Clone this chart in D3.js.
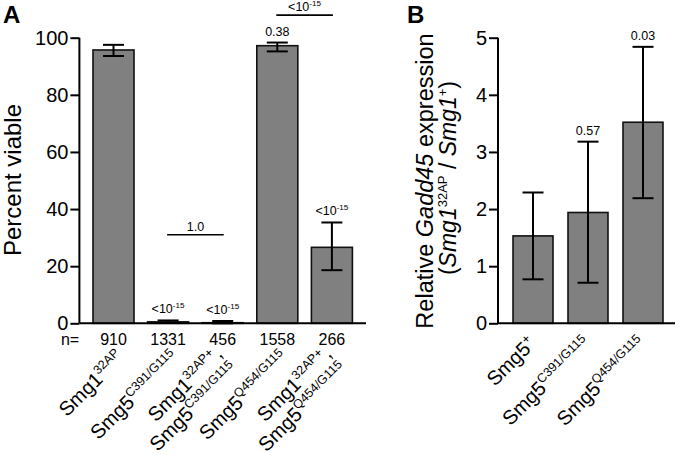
<!DOCTYPE html>
<html><head><meta charset="utf-8">
<script src="https://cdn.jsdelivr.net/npm/d3@7"></script>
<style>body{margin:0;background:#fff} svg text{font-family:"Liberation Sans",Arial,Helvetica,sans-serif;fill:#000}</style>
</head><body><svg id="c" width="677" height="455"></svg>
<script>
// ---- Panel A data ----
const catsA = ["Smg1_32AP", "Smg5_C391", "Smg1_Smg5_C391", "Smg5_Q454", "Smg1_Smg5_Q454"];
const valuesA = [95.7, 0.5, 0.2, 97.2, 26.6];
const errLoA = [93.6, 0.1, 0.0, 95.2, 18.6];
const errHiA = [97.5, 1.0, 0.8, 98.3, 35.3];
const nA = [910, 1331, 456, 1558, 266];
const pA = [null, "<10|-15", "<10|-15", "0.38", "<10|-15"];
const labelsA = [
  [["Smg1", "32AP", ""]],
  [["Smg5", "C391/G115", ""]],
  [["Smg1", "32AP+", ","], ["Smg5", "C391/G115", ""]],
  [["Smg5", "Q454/G115", ""]],
  [["Smg1", "32AP+", ","], ["Smg5", "Q454/G115", ""]]
];
const bracketsA = [{a: 1, b: 2, v: 31, t: "1.0"}, {a: 3, b: 4, v: 107.9, t: "<10|-15"}];
const ticksA = [0, 20, 40, 60, 80, 100];

// ---- Panel B data ----
const catsB = ["Smg5_plus", "Smg5_C391", "Smg5_Q454"];
const valuesB = [1.53, 1.94, 3.52];
const errLoB = [0.77, 0.71, 2.19];
const errHiB = [2.29, 3.18, 4.84];
const pB = [null, "0.57", "0.03"];
const labelsB = [
  [["Smg5", "+", ""]],
  [["Smg5", "C391/G115", ""]],
  [["Smg5", "Q454/G115", ""]]
];
const ticksB = [0, 1, 2, 3, 4, 5];

const svg = d3.select("#c");
const GRAY = "#808080";

function pText(sel, str, size) {
  const parts = str.split("|");
  sel.append("tspan").text(parts[0]);
  if (parts[1]) sel.append("tspan").attr("font-size", size * 0.65).attr("dy", -size * 0.4).text(parts[1]);
}

function panel(o) {
  const g = svg.append("g");
  const x = d3.scaleBand().domain(o.cats).range(o.xr).padding(o.pad);
  const y = d3.scaleLinear().domain(o.yd).range([323.3, 37.7]);
  const c = i => x(o.cats[i]) + x.bandwidth() / 2;

  // bars
  g.selectAll("rect.bar").data(o.values).join("rect")
    .attr("x", (d, i) => x(o.cats[i])).attr("width", x.bandwidth())
    .attr("y", d => y(d)).attr("height", d => y(0) - y(d))
    .attr("fill", GRAY).attr("stroke", "#111").attr("stroke-width", 1.6);

  // error bars
  const cap = 10.5;
  o.values.forEach((d, i) => {
    const cx = c(i);
    g.append("line").attr("x1", cx).attr("x2", cx).attr("y1", y(o.lo[i])).attr("y2", y(o.hi[i]))
      .attr("stroke", "#000").attr("stroke-width", 2);
    [o.lo[i], o.hi[i]].forEach(v => g.append("line").attr("x1", cx - cap).attr("x2", cx + cap)
      .attr("y1", y(v)).attr("y2", y(v)).attr("stroke", "#000").attr("stroke-width", 2));
    if (o.p[i]) {
      const t = g.append("text").attr("x", cx).attr("y", y(o.hi[i]) - 7)
        .attr("text-anchor", "middle").attr("font-size", 12.5);
      pText(t, o.p[i], 12.5);
    }
  });

  // y axis
  const ya = d3.axisLeft(y).tickValues(o.ticks).tickSize(9).tickPadding(2).tickFormat(d3.format("d"));
  const yg = g.append("g").attr("transform", `translate(${o.xr[0]},0)`).call(ya);
  yg.select(".domain").attr("d", `M0,${y(0)}V${y(o.yd[1])}`).attr("stroke-width", 2);
  yg.selectAll(".tick line").attr("stroke-width", 2);
  yg.selectAll(".tick text").attr("font-size", 20).attr("font-family", "Liberation Sans, Arial, sans-serif");

  // x axis line
  g.append("line").attr("x1", o.xr[0]).attr("x2", o.xEnd).attr("y1", y(0)).attr("y2", y(0))
    .attr("stroke", "#000").attr("stroke-width", 2);

  // category labels (rotated; two-line labels straddle the anchor)
  o.labels.forEach((lines, i) => {
    const lg = g.append("g").attr("transform", `translate(${c(i) + o.lab[0]},${o.lab[1]}) rotate(-45)`);
    const n = lines.length;
    lines.forEach((ln, j) => {
      const t = lg.append("text").attr("text-anchor", "end").attr("font-size", 20)
        .attr("x", n > 1 ? -5 : 0).attr("y", n > 1 ? (j === 0 ? -10.5 : 11.5) : 0);
      t.append("tspan").text(ln[0]);
      t.append("tspan").attr("font-size", 12.5).attr("dy", -8).text(ln[1]);
      if (ln[2]) t.append("tspan").attr("dy", 8).text(ln[2]);
    });
  });
  return {g, x, y, c};
}

const A = panel({cats: catsA, values: valuesA, lo: errLoA, hi: errHiA, p: pA, labels: labelsA,
  xr: [79.4, 366], xEnd: 366, pad: 0.249, yd: [0, 100], ticks: ticksA, lab: [12, 359]});
const B = panel({cats: catsB, values: valuesB, lo: errLoB, hi: errHiB, p: pB, labels: labelsB,
  xr: [498, 678], xEnd: 675, pad: 0.273, yd: [0, 5], ticks: ticksB, lab: [4, 345]});

// brackets panel A
bracketsA.forEach(b => {
  const yy = A.y(b.v);
  A.g.append("line").attr("x1", A.c(b.a) - 1).attr("x2", A.c(b.b) + 1).attr("y1", yy).attr("y2", yy)
    .attr("stroke", "#000").attr("stroke-width", 1.6);
  const t = A.g.append("text").attr("x", (A.c(b.a) + A.c(b.b)) / 2).attr("y", yy - 4)
    .attr("text-anchor", "middle").attr("font-size", 12.5);
  pText(t, b.t, 12.5);
});

// n= row
svg.append("text").attr("x", 70).attr("y", 345).attr("text-anchor", "middle").attr("font-size", 16).text("n=");
nA.forEach((n, i) => svg.append("text").attr("x", A.c(i)).attr("y", 345).attr("text-anchor", "middle")
  .attr("font-size", 16).text(n));

// y-axis titles
svg.append("text").attr("transform", "translate(21,180) rotate(-90)").attr("text-anchor", "middle")
  .attr("font-size", 24).text("Percent viable");
const t1 = svg.append("text").attr("transform", "translate(433,181) rotate(-90)").attr("text-anchor", "middle")
  .attr("font-size", 23.5);
t1.append("tspan").text("Relative ");
t1.append("tspan").attr("font-style", "italic").text("Gadd45");
t1.append("tspan").text(" expression");
const t2 = svg.append("text").attr("transform", "translate(456,178) rotate(-90)").attr("text-anchor", "middle")
  .attr("font-size", 23);
t2.append("tspan").text("(");
t2.append("tspan").attr("font-style", "italic").text("Smg1");
t2.append("tspan").attr("font-size", 13).attr("dy", -9).text("32AP");
t2.append("tspan").attr("dy", 9).text(" / ");
t2.append("tspan").attr("font-style", "italic").text("Smg1");
t2.append("tspan").attr("font-size", 13).attr("dy", -9).text("+");
t2.append("tspan").attr("dy", 9).text(")");

// panel letters
svg.append("text").attr("x", 3).attr("y", 23).attr("font-size", 24).attr("font-weight", "bold").text("A");
svg.append("text").attr("x", 407).attr("y", 23).attr("font-size", 24).attr("font-weight", "bold").text("B");
</script></body></html>
